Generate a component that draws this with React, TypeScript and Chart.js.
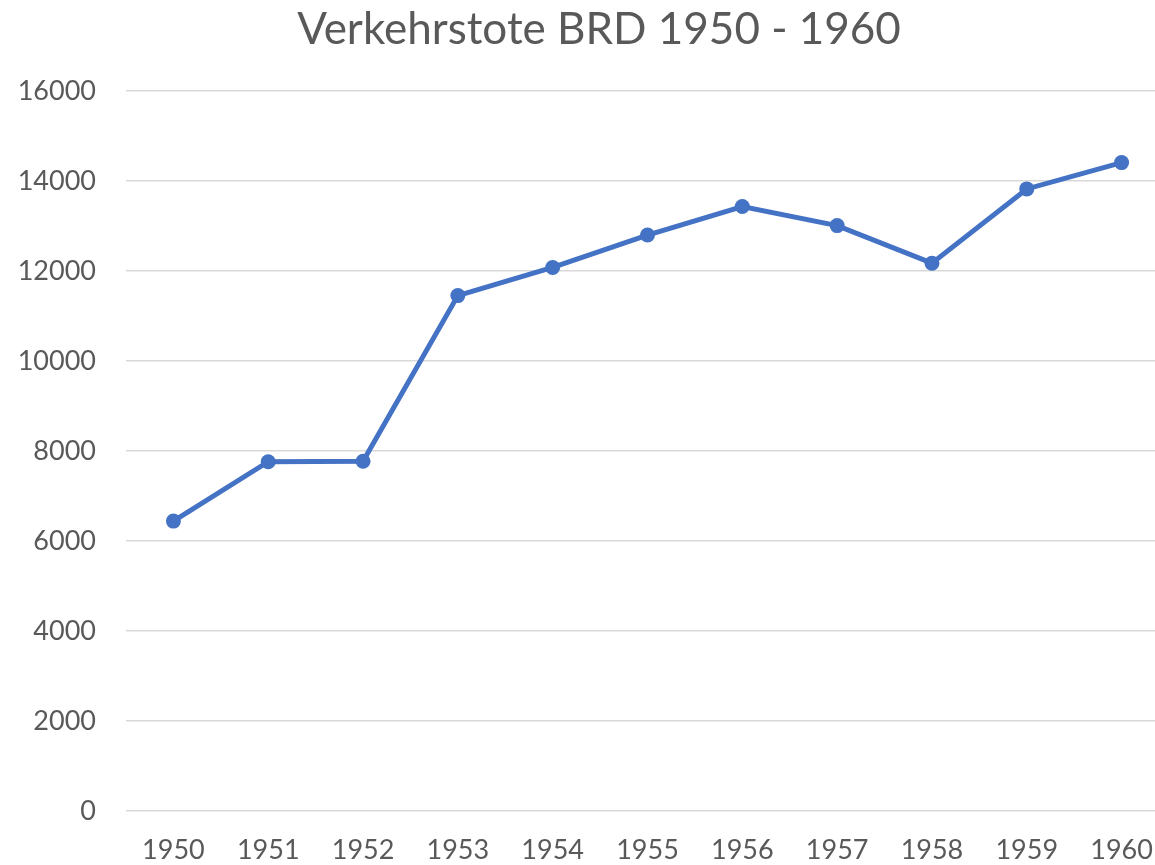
import React, { useEffect, useRef } from "react";
import { Chart, registerables } from "chart.js";

Chart.register(...registerables);

const titleText = "Verkehrstote BRD 1950 - 1960";
const years = ["1950", "1951", "1952", "1953", "1954", "1955", "1956", "1957", "1958", "1959", "1960"];
const deaths = [6440, 7760, 7770, 11450, 12075, 12795, 13430, 13005, 12170, 13820, 14405];
const yMin = 0;
const yMax = 16000;
const yStep = 2000;

const CANVAS_W = 1198;
const CANVAS_H = 880;
const FONT = "Lato, 'Open Sans', 'Liberation Sans', sans-serif";
const TEXT = "#595959";

export default function App() {
  const ref = useRef<HTMLCanvasElement | null>(null);

  useEffect(() => {
    if (!ref.current) return;
    const chart = new Chart(ref.current, {
      type: "line",
      data: {
        labels: years,
        datasets: [
          {
            label: "Verkehrstote",
            data: deaths,
            borderColor: "#4472C4",
            backgroundColor: "#4472C4",
            borderWidth: 5,
            pointRadius: 7.5,
            pointBorderWidth: 0,
            pointBackgroundColor: "#4472C4",
            tension: 0,
          },
        ],
      },
      options: {
        responsive: false,
        animation: false,
        layout: { padding: 0 },
        plugins: {
          legend: { display: false },
          tooltip: { enabled: false },
          title: {
            display: true,
            text: titleText,
            color: TEXT,
            font: { family: FONT, size: 44, weight: "normal" },
            padding: { top: 3, bottom: 35 },
          },
        },
        scales: {
          x: {
            offset: true,
            grid: { display: false, drawTicks: false },
            border: { display: false },
            ticks: {
              color: TEXT,
              font: { family: FONT, size: 27 },
              padding: 23,
              maxRotation: 0,
              autoSkip: false,
            },
            afterFit: (scale: any) => {
              scale.height = CANVAS_H - 811;
            },
          },
          y: {
            min: yMin,
            max: yMax,
            grid: { color: "#d9d9d9", lineWidth: 1.5, drawTicks: false },
            border: { display: false },
            ticks: {
              stepSize: yStep,
              color: TEXT,
              font: { family: FONT, size: 27 },
              padding: 30,
              callback: (v: any) => String(v),
            },
            afterFit: (scale: any) => {
              scale.width = 126;
            },
          },
          yPad: {
            position: "right",
            display: true,
            grid: { display: false, drawTicks: false },
            border: { display: false },
            ticks: { display: false },
            afterFit: (scale: any) => {
              scale.width = 29;
            },
          },
        },
      },
    });
    return () => chart.destroy();
  }, []);

  return (
    <div
      style={{
        position: "fixed",
        left: 0,
        top: 0,
        width: 1155,
        height: 865,
        overflow: "hidden",
        background: "#fff",
      }}
    >
      <canvas ref={ref} width={CANVAS_W} height={CANVAS_H} style={{ display: "block" }} />
    </div>
  );
}
